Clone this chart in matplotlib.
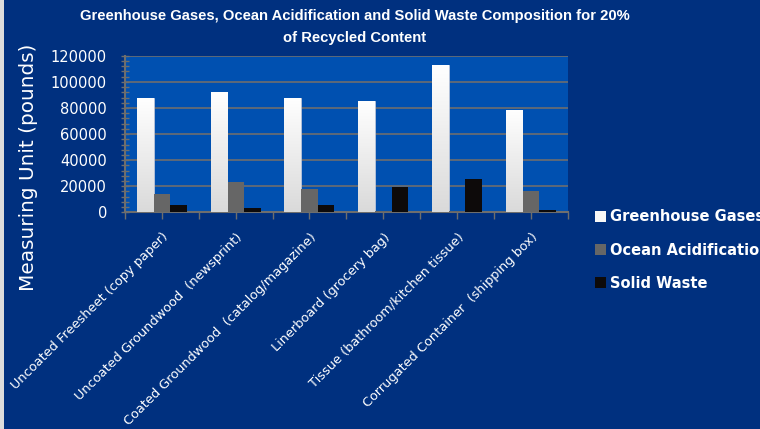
import numpy as np
import matplotlib
matplotlib.use("Agg")
import matplotlib.pyplot as plt
from matplotlib.patches import Patch, Rectangle
from matplotlib.ticker import MultipleLocator, FixedLocator

# values (pounds)
categories = [
    "Uncoated Freesheet (copy paper)",
    "Uncoated Groundwood  (newsprint)",
    "Coated Groundwood  (catalog/magazine)",
    "Linerboard (grocery bag)",
    "Tissue (bathroom/kitchen tissue)",
    "Corrugated Container  (shipping box)",
]
greenhouse_gases = [87300, 92400, 88000, 85300, 112600, 78400]
ocean_acidification = [14300, 23200, 18100, 1000, 1000, 16300]
solid_waste = [5400, 3300, 5400, 19400, 25300, 1500]

series_names = ["Greenhouse Gases", "Ocean Acidification", "Solid Waste"]
series_colors = ["#F7F7F7", "#666666", "#0D0A0A"]

bg_dark = "#00307F"
bg_plot = "#0050B0"
grid_col = "#6E6E6E"

fig = plt.figure(figsize=(7.6, 4.29), dpi=100, facecolor=bg_dark)
ax = fig.add_axes([0.1645, 0.505, 0.5825, 0.365])
ax.set_facecolor(bg_plot)

x = np.arange(len(categories))
w = 0.226
ghg_bars = ax.bar(x - w, greenhouse_gases, w, color=series_colors[0],
                  edgecolor="#B8C4DA", linewidth=0.6, zorder=3)
ax.bar(x, ocean_acidification, w, color=series_colors[1], zorder=3)
ax.bar(x + w, solid_waste, w, color=series_colors[2], zorder=3)

# white-to-gray gradient on the greenhouse bars
grad = np.linspace(0, 1, 100).reshape(-1, 1)
cmap = matplotlib.colors.LinearSegmentedColormap.from_list("g", ["#DADADA", "#FFFFFF"])
for b in ghg_bars:
    x0, y0 = b.get_x(), b.get_y()
    im = ax.imshow(grad, cmap=cmap, origin="lower", aspect="auto",
                   extent=[x0, x0 + b.get_width(), y0, y0 + b.get_height()],
                   zorder=3.5)
    im.set_clip_path(b)

ax.set_xlim(-0.5, len(categories) - 0.5)
ax.set_ylim(0, 120000)

ax.yaxis.set_major_locator(MultipleLocator(20000))
ax.yaxis.set_minor_locator(MultipleLocator(4000))
ax.grid(axis="y", color=grid_col, linewidth=1.2, zorder=1)
ax.set_axisbelow(True)

ax.xaxis.set_major_locator(FixedLocator(x))
ax.xaxis.set_minor_locator(FixedLocator(np.arange(-0.5, len(categories), 1)))
ax.set_xticklabels(categories, rotation=45, ha="right", va="top",
                   rotation_mode="anchor", fontsize=9.3, color="white")
ax.tick_params(axis="x", which="both", direction="out", length=5,
               color=grid_col, width=1, pad=8)
ax.tick_params(axis="y", which="both", direction="inout", length=6,
               color=grid_col, width=1, pad=10, labelsize=10.5, labelcolor="white")

for side in ["top", "right"]:
    ax.spines[side].set_visible(False)
for side in ["left", "bottom"]:
    ax.spines[side].set_color(grid_col)
    ax.spines[side].set_linewidth(1.5)

ax.set_ylabel("Measuring Unit (pounds)", fontsize=14.4, color="white")
ax.yaxis.set_label_coords(-0.197, 0.286)

fig.text(0.4665, 0.978, "Greenhouse Gases, Ocean Acidification and Solid Waste Composition for 20%\nof Recycled Content",
         ha="center", va="top", color="white", fontsize=10.6, fontweight="bold",
         family=["Liberation Sans", "DejaVu Sans"], linespacing=1.7)

handles = [Patch(facecolor=c, edgecolor="none") for c in series_colors]
fig.legend(handles, series_names, loc="upper left",
           bbox_to_anchor=(0.783, 0.512), frameon=False,
           labelcolor="white", prop={"weight": "bold", "size": 10.5},
           handlelength=0.75, handleheight=0.75, handletextpad=0.3,
           labelspacing=1.25, borderpad=0, borderaxespad=0)

# thin light strip along the left edge of the image
fig.patches.append(Rectangle((0, 0), 4 / 760, 1, transform=fig.transFigure,
                             facecolor="#DCDCDC", edgecolor="none"))

fig.savefig("out.png", dpi=100, facecolor=bg_dark)
